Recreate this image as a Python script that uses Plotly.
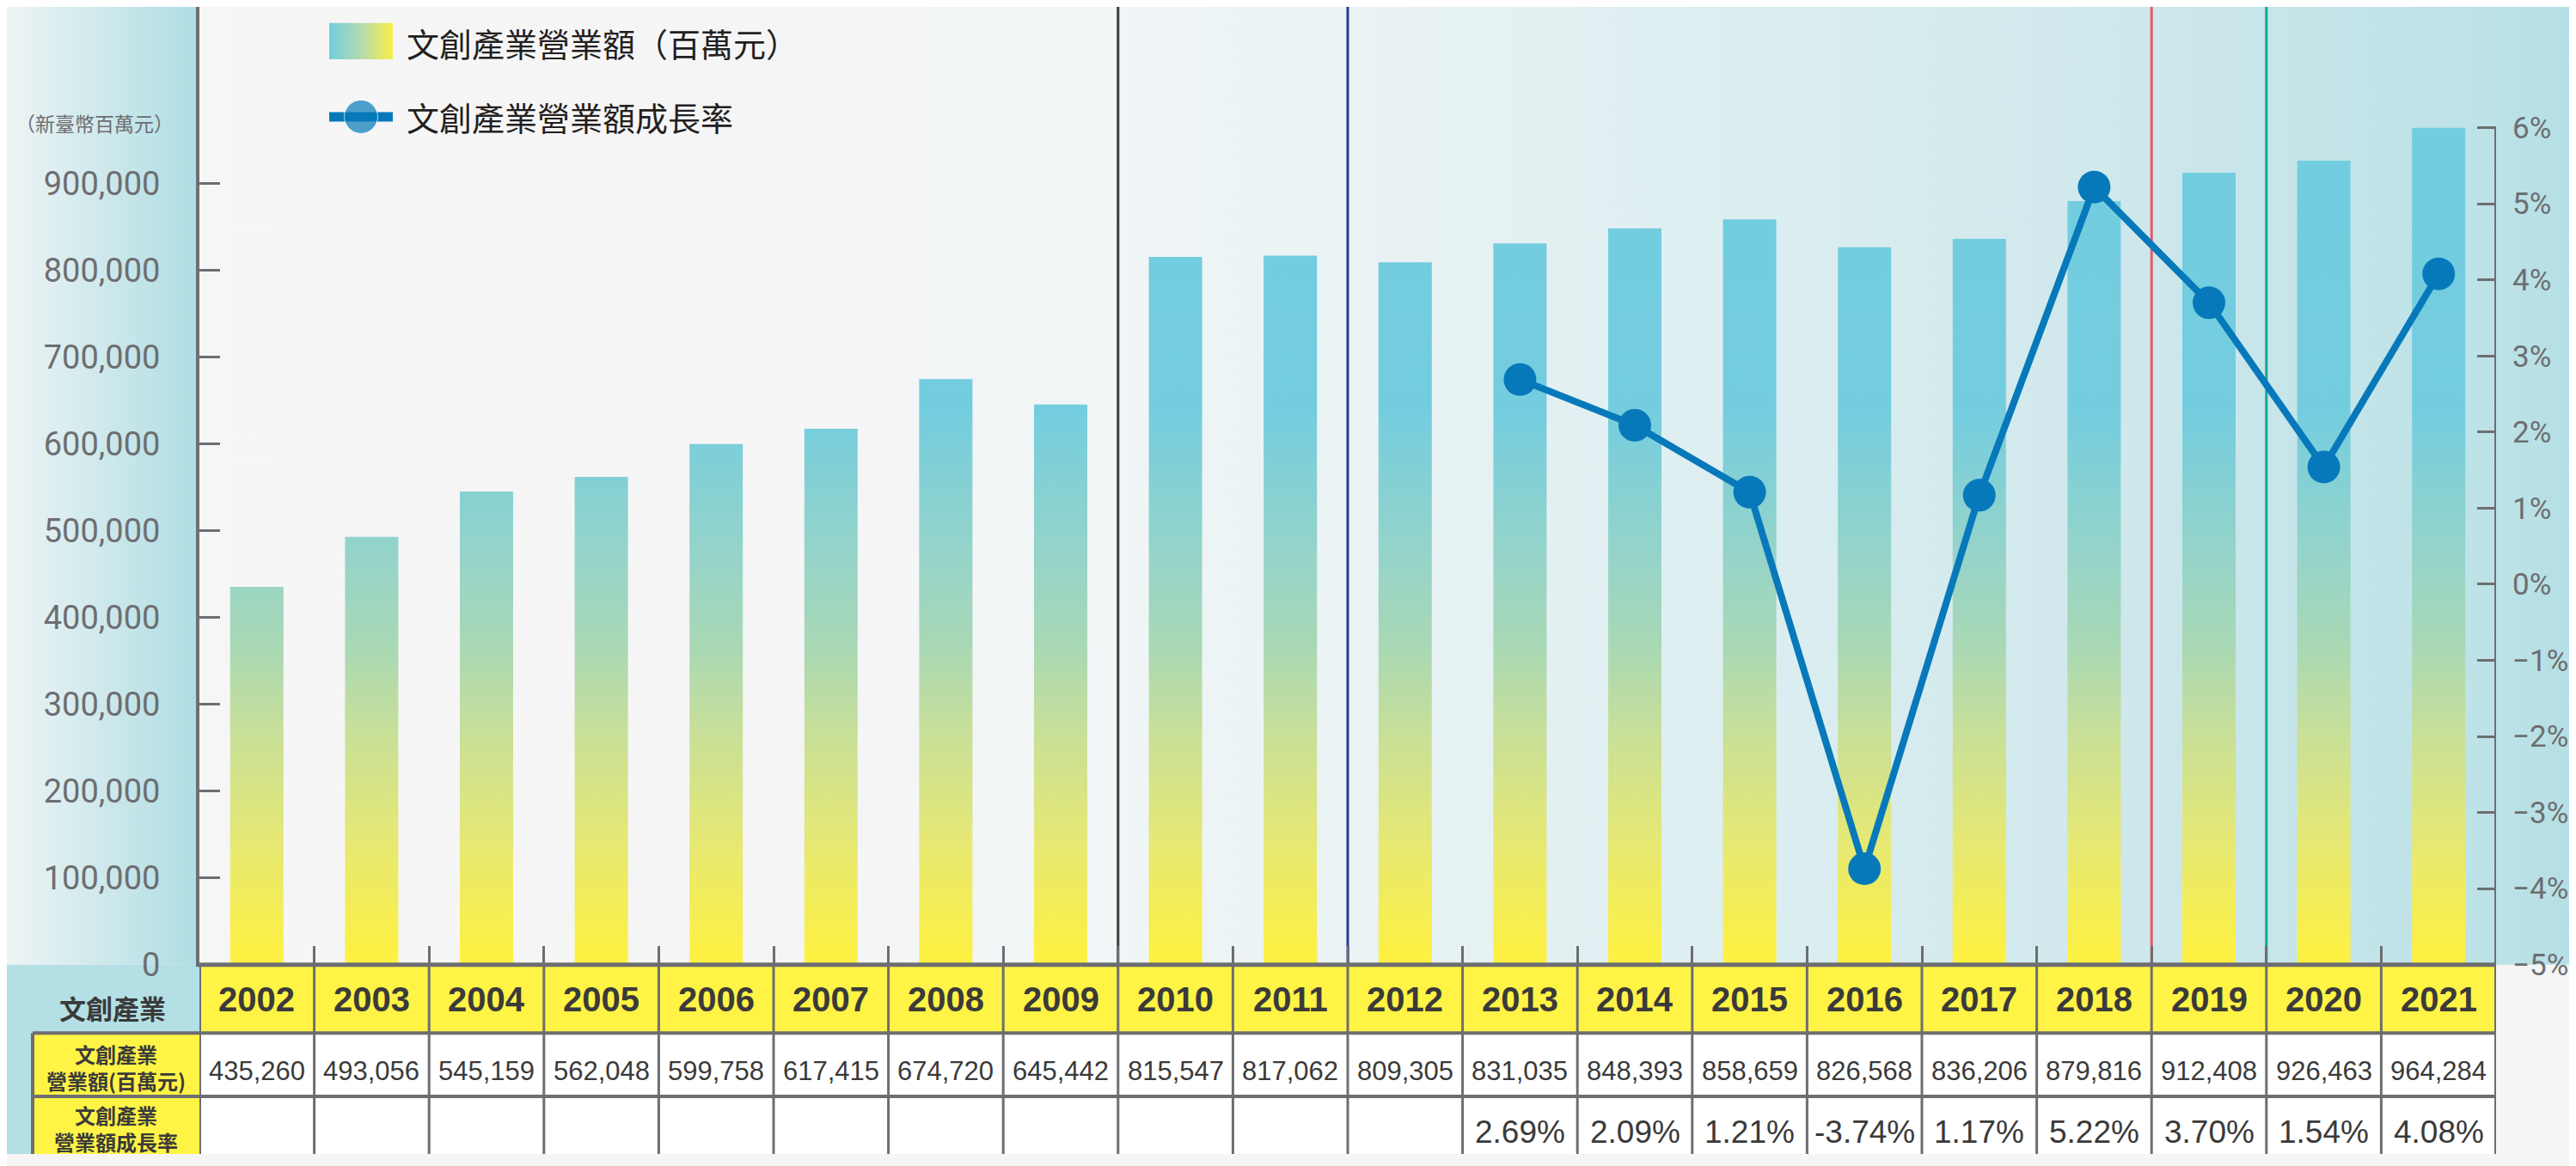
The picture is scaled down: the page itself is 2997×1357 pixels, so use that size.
import plotly.graph_objects as go

# ---------------- data ----------------
YEARS = [2002, 2003, 2004, 2005, 2006, 2007, 2008, 2009, 2010, 2011,
         2012, 2013, 2014, 2015, 2016, 2017, 2018, 2019, 2020, 2021]
REVENUE = [435260, 493056, 545159, 562048, 599758, 617415, 674720, 645442,
           815547, 817062, 809305, 831035, 848393, 858659, 826568, 836206,
           879816, 912408, 926463, 964284]
GROWTH = [None, None, None, None, None, None, None, None, None, None, None,
          2.69, 2.09, 1.21, -3.74, 1.17, 5.22, 3.70, 1.54, 4.08]
LEFT_TICKS = [0, 100000, 200000, 300000, 400000, 500000, 600000, 700000, 800000, 900000]
RIGHT_TICKS = [-5, -4, -3, -2, -1, 0, 1, 2, 3, 4, 5, 6]
LEGEND_BAR = "文創產業營業額（百萬元）"
LEGEND_LINE = "文創產業營業額成長率"
UNIT_LABEL = "（新臺幣百萬元）"
TABLE_HEAD = "文創產業"
ROW_LABELS = ["文創產業<br>營業額(百萬元)", "文創產業<br>營業額成長率"]
DIVIDER_AFTER = [2009, 2011, 2018, 2019]

# ---------------- style / layout constants ----------------
W, H = 2997, 1357
PL, PR = 224, 2896          # plot left / right (px)
PB = 1133                   # zero line (px)
PTOP6 = 143                 # pixel of the 6% / max-bar level
R1, R2 = 1214, 1289         # table row borders
GRAY = "#6D6E71"
DARK = "#3A3A3A"
BLUE = "#0779BA"
YELLOW = "#FFF345"
CYAN = "#B3DFE5"
DIVIDER_COLORS = ["#3C3C3C", "#2E3A94", "#E8596A", "#12A88F"]
CJK = "Noto Sans CJK TC"
NUM = "Liberation Sans, Arial, sans-serif"
AX = "Roboto, sans-serif"

n = len(YEARS)
idx = list(range(n))
y2max = max(REVENUE) * PB / (PB - PTOP6)
y3max = RIGHT_TICKS[0] + (RIGHT_TICKS[-1] - RIGHT_TICKS[0]) * PB / (PB - PTOP6)

fig = go.Figure()

# ---------- decorative background (canvas axes in pixel units) ----------
fig.add_trace(go.Scatter(
    x=[0, PL, PL, 0, 0], y=[0, 0, PB, PB, 0], fill="toself", mode="lines",
    line=dict(width=0), hoverinfo="skip", showlegend=False,
    fillgradient=dict(type="horizontal", start=0, stop=PL,
                      colorscale=[[0, "#EEF4F5"], [1, "#AEDDE3"]]),
    xaxis="x", yaxis="y"))
fig.add_trace(go.Scatter(
    x=[PL, W, W, PL, PL], y=[0, 0, PB, PB, 0], fill="toself", mode="lines",
    line=dict(width=0), hoverinfo="skip", showlegend=False,
    fillgradient=dict(type="horizontal", start=PL, stop=W,
                      colorscale=[[0, "#F6F6F6"], [0.244, "#F5F5F6"], [0.3855, "#F0F5F6"],
                                  [0.532, "#E6F1F3"], [0.6765, "#DAEDF0"], [0.821, "#CDE7EB"],
                                  [0.9636, "#BCE2E7"], [1, "#B4DFE4"]]),
    xaxis="x", yaxis="y"))

# legend swatches
fig.add_trace(go.Scatter(
    x=[375, 449, 449, 375, 375], y=[19, 19, 62, 62, 19], fill="toself", mode="lines",
    line=dict(width=0), hoverinfo="skip", showlegend=False,
    fillgradient=dict(type="horizontal", start=375, stop=449,
                      colorscale=[[0, "#72CDE0"], [0.5, "#B4DAB0"], [1, "#F8EF48"]]),
    xaxis="x", yaxis="y"))
fig.add_trace(go.Scatter(
    x=[375, 412, 449], y=[130, 130, 130], mode="lines+markers",
    line=dict(color=BLUE, width=11), marker=dict(size=[0, 39, 0], color=BLUE),
    hoverinfo="skip", showlegend=False, xaxis="x", yaxis="y"))

# ---------- bars (gradient filled rectangles from data) ----------
hw = 0.232
bx, by = [], []
for i, v in zip(idx, REVENUE):
    bx += [i - hw, i + hw, i + hw, i - hw, i - hw, None]
    by += [0, 0, v, v, 0, None]
fig.add_trace(go.Scatter(
    x=bx, y=by, fill="toself", mode="lines", line=dict(width=0),
    name=LEGEND_BAR, showlegend=False, hoverinfo="skip",
    fillgradient=dict(type="vertical", start=0, stop=max(REVENUE),
                      colorscale=[[0, "#FFF33A"], [0.037, "#FCF046"], [0.167, "#E5E875"],
                                  [0.298, "#C6DF9A"], [0.395, "#A8D8B5"], [0.493, "#97D4C8"],
                                  [0.669, "#74CDDF"], [1, "#72CDE0"]]),
    xaxis="x2", yaxis="y2"))

# ---------- growth line ----------
fig.add_trace(go.Scatter(
    x=idx, y=GROWTH, mode="lines+markers", name=LEGEND_LINE, showlegend=False,
    line=dict(color=BLUE, width=8), marker=dict(size=38, color=BLUE),
    connectgaps=False, xaxis="x2", yaxis="y3"))

# ---------- shapes ----------
shapes = []
for yr, col in zip(DIVIDER_AFTER, DIVIDER_COLORS):
    xb = YEARS.index(yr) + 0.5
    shapes.append(dict(type="line", xref="x2", yref="y2", x0=xb, x1=xb, y0=0, y1=y2max,
                       line=dict(color=col, width=3), layer="below"))
shapes.append(dict(type="rect", xref="x", yref="y", x0=0, x1=PL, y0=PB, y1=H,
                   fillcolor=CYAN, line=dict(width=0), layer="below"))
shapes.append(dict(type="rect", xref="x", yref="y", x0=PL, x1=PR, y0=PB, y1=R1,
                   fillcolor=YELLOW, line=dict(width=0), layer="below"))
shapes.append(dict(type="rect", xref="x", yref="y", x0=PL, x1=PR, y0=R1, y1=H,
                   fillcolor="#FFFFFF", line=dict(width=0), layer="below"))
shapes.append(dict(type="rect", xref="x", yref="y", x0=30, x1=PL, y0=R1, y1=H,
                   fillcolor=YELLOW, line=dict(width=0), layer="below"))
for yb in (R1, R2):
    shapes.append(dict(type="line", xref="x", yref="y", x0=30, x1=PR, y0=yb, y1=yb,
                       line=dict(color=GRAY, width=4), layer="above"))
shapes.append(dict(type="line", xref="x", yref="y", x0=30, x1=30, y0=R1, y1=H,
                   line=dict(color=GRAY, width=4), layer="above"))
for k in range(n + 1):
    xb = k - 0.5
    shapes.append(dict(type="line", xref="x2", yref="y", x0=xb, x1=xb, y0=PB, y1=H,
                       line=dict(color=GRAY, width=4 if k in (0, n) else 3), layer="above"))
shapes.append(dict(type="line", xref="x", yref="y", x0=PL - 4, x1=PR, y0=PB, y1=PB,
                   line=dict(color=GRAY, width=5), layer="above"))
shapes.append(dict(type="line", xref="x2", yref="y3", x0=n - 0.5, x1=n - 0.5,
                   y0=RIGHT_TICKS[0], y1=RIGHT_TICKS[-1],
                   line=dict(color=GRAY, width=4), layer="above"))

# ---------- annotations ----------
ann = []
ann.append(dict(text=UNIT_LABEL, xref="x", yref="y", x=102, y=137, showarrow=False,
                font=dict(family=CJK, size=23, color=GRAY)))
ann.append(dict(text=LEGEND_BAR, xref="x", yref="y", x=463, y=42, xanchor="left",
                showarrow=False, font=dict(family=CJK, size=38, color="#231F20")))
ann.append(dict(text=LEGEND_LINE, xref="x", yref="y", x=463, y=130, xanchor="left",
                showarrow=False, font=dict(family=CJK, size=38, color="#231F20")))
ann.append(dict(text="<b>" + TABLE_HEAD + "</b>", xref="x", yref="y", x=123, y=1184,
                showarrow=False, font=dict(family=CJK, size=31, color=DARK)))
ann.append(dict(text="<b>" + ROW_LABELS[0] + "</b>", xref="x", yref="y", x=127, y=1254,
                showarrow=False, font=dict(family=CJK, size=24, color=DARK)))
ann.append(dict(text="<b>" + ROW_LABELS[1] + "</b>", xref="x", yref="y", x=127, y=1327,
                showarrow=False, font=dict(family=CJK, size=24, color=DARK)))
for i, yr, v, g in zip(idx, YEARS, REVENUE, GROWTH):
    ann.append(dict(text="<b>%d</b>" % yr, xref="x2", yref="y", x=i, y=1174,
                    showarrow=False, font=dict(family=NUM, size=40, color=DARK)))
    ann.append(dict(text=f"{v:,}", xref="x2", yref="y", x=i, y=1259,
                    showarrow=False, font=dict(family=NUM, size=31, color=DARK)))
    if g is not None:
        ann.append(dict(text=f"{g:.2f}%", xref="x2", yref="y", x=i, y=1331,
                        showarrow=False, font=dict(family=NUM, size=37, color=DARK)))

fig.update_layout(
    width=W, height=H, margin=dict(l=0, r=0, t=0, b=0),
    paper_bgcolor="#F5F5F5", plot_bgcolor="rgba(0,0,0,0)",
    showlegend=False, shapes=shapes, annotations=ann,
    xaxis=dict(domain=[0, 1], range=[0, W], visible=False, fixedrange=True),
    yaxis=dict(domain=[0, 1], range=[H, 0], visible=False, fixedrange=True),
    xaxis2=dict(domain=[PL / W, PR / W], anchor="y2", range=[-0.5, n - 0.5],
                tickvals=[k + 0.5 for k in range(n - 1)], ticks="inside", ticklen=22,
                tickwidth=3, tickcolor=GRAY, showticklabels=False, showgrid=False,
                zeroline=False, showline=False, fixedrange=True),
    yaxis2=dict(domain=[(H - PB) / H, 1], anchor="x2", range=[0, y2max],
                tickvals=LEFT_TICKS, tickformat=",", ticks="inside", ticklen=24,
                tickwidth=3, tickcolor=GRAY, showline=True, linewidth=4, linecolor=GRAY,
                showgrid=False, zeroline=False, ticklabelstandoff=34,
                tickfont=dict(family=AX, size=38, color=GRAY), fixedrange=True),
    yaxis3=dict(overlaying="y2", side="right", anchor="x2", range=[RIGHT_TICKS[0], y3max],
                tickvals=RIGHT_TICKS,
                ticktext=[("−%d%%" % -t) if t < 0 else ("%d%%" % t) for t in RIGHT_TICKS],
                ticks="inside", ticklen=22, tickwidth=3, tickcolor=GRAY, showline=False,
                showgrid=False, zeroline=False, ticklabelstandoff=18,
                tickfont=dict(family=AX, size=35, color=GRAY), fixedrange=True),
)

fig.write_html("out.html")
